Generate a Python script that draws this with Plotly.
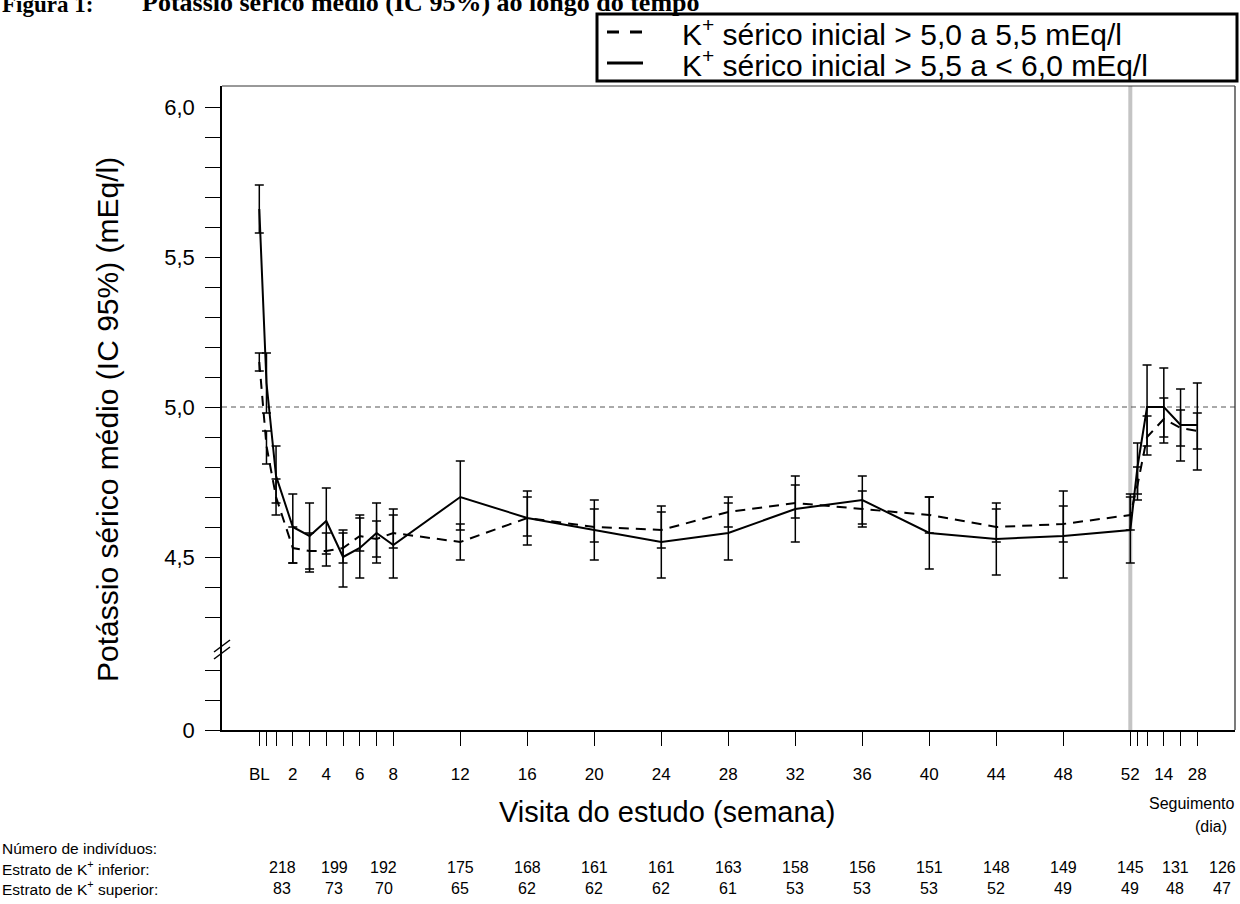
import plotly.graph_objects as go

# ---------------- data ----------------
visit_weeks = [0, 3/7, 1, 2, 3, 4, 5, 6, 7, 8, 12, 16, 20, 24, 28, 32, 36, 40, 44, 48, 52,
               52 + 3/7, 52 + 7/7, 52 + 14/7, 52 + 21/7, 52 + 28/7]

# lower stratum (K+ > 5.0 to 5.5) - dashed
low_mean = [5.15, 4.87, 4.70, 4.53, 4.52, 4.52, 4.53, 4.57, 4.56, 4.58, 4.55, 4.63, 4.60, 4.59,
            4.65, 4.68, 4.66, 4.64, 4.60, 4.61, 4.64, 4.74, 4.90, 4.96, 4.93, 4.92]
low_lo = [5.12, 4.81, 4.64, 4.48, 4.46, 4.47, 4.48, 4.52, 4.50, 4.53, 4.49, 4.57, 4.55, 4.53,
          4.60, 4.63, 4.61, 4.58, 4.55, 4.55, 4.59, 4.69, 4.84, 4.90, 4.87, 4.86]
low_hi = [5.18, 4.92, 4.76, 4.60, 4.58, 4.58, 4.58, 4.64, 4.62, 4.64, 4.61, 4.70, 4.66, 4.65,
          4.70, 4.74, 4.72, 4.70, 4.66, 4.67, 4.70, 4.80, 4.97, 5.03, 4.99, 4.98]

# upper stratum (K+ > 5.5 to < 6.0) - solid
up_mean = [5.66, 5.08, 4.77, 4.60, 4.57, 4.62, 4.50, 4.53, 4.58, 4.54, 4.70, 4.63, 4.59, 4.55,
           4.58, 4.66, 4.69, 4.58, 4.56, 4.57, 4.59, 4.80, 5.00, 5.00, 4.94, 4.94]
up_lo = [5.58, 4.98, 4.68, 4.48, 4.45, 4.51, 4.40, 4.43, 4.48, 4.43, 4.59, 4.54, 4.49, 4.43,
         4.49, 4.55, 4.60, 4.46, 4.44, 4.43, 4.48, 4.71, 4.87, 4.88, 4.82, 4.79]
up_hi = [5.74, 5.18, 4.87, 4.71, 4.68, 4.73, 4.59, 4.63, 4.68, 4.66, 4.82, 4.72, 4.69, 4.67,
         4.68, 4.77, 4.77, 4.70, 4.68, 4.72, 4.71, 4.88, 5.14, 5.13, 5.06, 5.08]

# x ticks
x_tick_vals = [0, 3/7, 1, 2, 3, 4, 5, 6, 7, 8, 12, 16, 20, 24, 28, 32, 36, 40, 44, 48, 52,
               52 + 3/7, 52 + 7/7, 52 + 14/7, 52 + 21/7, 52 + 28/7]
x_tick_text = ["BL", "", "", "2", "", "4", "", "6", "", "8", "12", "16", "20", "24", "28", "32",
               "36", "40", "44", "48", "52", "", "", "14", "", "28"]

# y ticks (upper segment) and lower segment
y_up_vals = [4.3, 4.4, 4.5, 4.6, 4.7, 4.8, 4.9, 5.0, 5.1, 5.2, 5.3, 5.4, 5.5, 5.6, 5.7, 5.8, 5.9, 6.0]
y_up_text = ["", "", "4,5", "", "", "", "", "5,0", "", "", "", "", "5,5", "", "", "", "", "6,0"]
y_low_vals = [0, 0.1, 0.2]
y_low_text = ["0", "", ""]

# subject counts
count_pos = [1.36, 4.46, 7.44, 12, 16, 20, 24, 28, 32, 36, 40, 44, 48, 52, 54.67, 57.48]
n_low = [218, 199, 192, 175, 168, 161, 161, 163, 158, 156, 151, 148, 149, 145, 131, 126]
n_up = [83, 73, 70, 65, 62, 62, 62, 61, 53, 53, 53, 52, 49, 49, 48, 47]

ref_level = 5.0
eot_week = 52

# ---------------- layout geometry ----------------
FIG_W, FIG_H = 1240, 904
ML, MR, MT, MB = 222, 5, 86, 174
PW = FIG_W - ML - MR
PH = FIG_H - MT - MB


def px(x):
    return (x - ML) / PW


def py(y):
    return (FIG_H - MB - y) / PH


split = py(650)
FONT = "Liberation Sans, Arial, sans-serif"
SERIF = "Liberation Serif, Times New Roman, serif"

fig = go.Figure()

# empty trace so the lower (below-break) y segment is drawn
fig.add_trace(go.Scatter(x=[], y=[], xaxis="x", yaxis="y", showlegend=False, hoverinfo="skip"))

for mean, lo, hi, dash, name in [
    (low_mean, low_lo, low_hi, "10px,7px", "low"),
    (up_mean, up_lo, up_hi, "solid", "up"),
]:
    fig.add_trace(go.Scatter(
        x=visit_weeks, y=mean, mode="lines", name=name,
        line=dict(color="black", width=2, dash=dash),
        error_y=dict(type="data", symmetric=False,
                     array=[h - m for h, m in zip(hi, mean)],
                     arrayminus=[m - l for l, m in zip(lo, mean)],
                     color="black", thickness=1.5, width=4.5),
        xaxis="x", yaxis="y2", showlegend=False,
    ))

fig.update_layout(
    width=FIG_W, height=FIG_H,
    margin=dict(l=ML, r=MR, t=MT, b=MB),
    paper_bgcolor="white", plot_bgcolor="white",
    font=dict(family=FONT, color="black"),
    showlegend=False,
    xaxis=dict(range=[-2.227, 58.25], tickvals=x_tick_vals, ticktext=x_tick_text,
               ticks="outside", ticklen=14, tickwidth=1.3, tickcolor="black",
               showline=True, linecolor="black", linewidth=2, showgrid=False, zeroline=False,
               tickfont=dict(size=17, color="black"), anchor="y", ticklabelstandoff=14),
    yaxis=dict(domain=[0, split], range=[0, 0.2667], tickvals=y_low_vals, ticktext=y_low_text,
               ticks="outside", ticklen=15, tickwidth=1.3, tickcolor="black",
               showline=True, linecolor="black", linewidth=1.5, showgrid=False, zeroline=False,
               tickfont=dict(size=22, color="black"), anchor="x", ticklabelstandoff=6),
    yaxis2=dict(domain=[split, 1], range=[4.19, 6.07], tickvals=y_up_vals, ticktext=y_up_text,
                ticks="outside", ticklen=15, tickwidth=1.3, tickcolor="black",
                showline=True, linecolor="black", linewidth=1.5, showgrid=False, zeroline=False,
                tickfont=dict(size=22, color="black"), anchor="x", ticklabelstandoff=6),
)

shapes = []
# end-of-treatment gray line
shapes.append(dict(type="line", xref="x", yref="paper", x0=eot_week, x1=eot_week, y0=0, y1=1,
                   line=dict(color="#c4c4c4", width=4), layer="below"))
# reference dashed line at 5.0
shapes.append(dict(type="line", xref="paper", yref="y2", x0=0, x1=1, y0=ref_level, y1=ref_level,
                   line=dict(color="#555555", width=1, dash="5px,4px"), layer="below"))
# frame top/right
shapes.append(dict(type="line", xref="paper", yref="paper", x0=0, x1=1, y0=1, y1=1,
                   line=dict(color="#333333", width=1)))
shapes.append(dict(type="line", xref="paper", yref="paper", x0=1, x1=1, y0=0, y1=1,
                   line=dict(color="#333333", width=1.3)))
# axis break marks
for dy in (0, 7):
    shapes.append(dict(type="line", xref="paper", yref="paper",
                       x0=px(214), x1=px(230), y0=py(652 + dy), y1=py(640 + dy),
                       line=dict(color="black", width=1.5)))
# legend box
shapes.append(dict(type="rect", xref="paper", yref="paper",
                   x0=px(597), x1=px(1237), y0=py(81), y1=py(14),
                   line=dict(color="black", width=3), fillcolor="white"))
shapes.append(dict(type="line", xref="paper", yref="paper", x0=px(607), x1=px(643),
                   y0=py(32), y1=py(32), line=dict(color="black", width=3, dash="12px,11px")))
shapes.append(dict(type="line", xref="paper", yref="paper", x0=px(607), x1=px(643),
                   y0=py(63), y1=py(63), line=dict(color="black", width=3)))
fig.update_layout(shapes=shapes)

ann = []
# title (partially cut at top)
ann.append(dict(text="<b>Figura 1:</b>", xref="paper", yref="paper", x=px(0), y=py(19),
                xanchor="left", yanchor="bottom", showarrow=False,
                font=dict(family=SERIF, size=23)))
ann.append(dict(text="<b>Potássio sérico médio (IC 95%) ao longo do tempo</b>", xref="paper",
                yref="paper", x=px(140), y=py(19), xanchor="left", yanchor="bottom",
                showarrow=False, font=dict(family=SERIF, size=26)))
# legend texts
ann.append(dict(text="K<sup>+</sup> sérico inicial > 5,0 a 5,5 mEq/l", xref="paper", yref="paper",
                x=px(680), y=py(32), xanchor="left", yanchor="middle", showarrow=False,
                font=dict(size=30)))
ann.append(dict(text="K<sup>+</sup> sérico inicial > 5,5 a < 6,0 mEq/l", xref="paper", yref="paper",
                x=px(680), y=py(63), xanchor="left", yanchor="middle", showarrow=False,
                font=dict(size=30)))
# axis titles
ann.append(dict(text="Potássio sérico médio (IC 95%) (mEq/l)", xref="paper", yref="paper",
                x=px(108), y=py(420), textangle=-90, xanchor="center", yanchor="middle",
                showarrow=False, font=dict(size=30)))
ann.append(dict(text="Visita do estudo (semana)", xref="paper", yref="paper",
                x=px(667), y=py(812), xanchor="center", yanchor="middle",
                showarrow=False, font=dict(size=29)))
ann.append(dict(text="Seguimento", xref="paper", yref="paper",
                x=px(1236), y=py(803), xanchor="right", yanchor="middle",
                showarrow=False, font=dict(size=16)))
ann.append(dict(text="(dia)", xref="paper", yref="paper",
                x=px(1211), y=py(826), xanchor="center", yanchor="middle",
                showarrow=False, font=dict(size=16)))
# table
ann.append(dict(text="Número de indivíduos:", xref="paper", yref="paper", x=px(0), y=py(848),
                xanchor="left", yanchor="middle", showarrow=False, font=dict(size=15.5)))
ann.append(dict(text="Estrato de K<sup>+</sup> inferior:", xref="paper", yref="paper", x=px(0),
                y=py(868), xanchor="left", yanchor="middle", showarrow=False, font=dict(size=15.5)))
ann.append(dict(text="Estrato de K<sup>+</sup> superior:", xref="paper", yref="paper", x=px(0),
                y=py(888), xanchor="left", yanchor="middle", showarrow=False, font=dict(size=15.5)))
for pos, a, b in zip(count_pos, n_low, n_up):
    ann.append(dict(text=str(a), xref="x", yref="paper", x=pos, y=py(868), xanchor="center",
                    yanchor="middle", showarrow=False, font=dict(size=16)))
    ann.append(dict(text=str(b), xref="x", yref="paper", x=pos, y=py(888), xanchor="center",
                    yanchor="middle", showarrow=False, font=dict(size=16)))
fig.update_layout(annotations=ann)

fig.write_html("out.html", config={"displayModeBar": False},
               post_script="document.body.style.margin='0px';document.body.style.overflow='hidden';")
